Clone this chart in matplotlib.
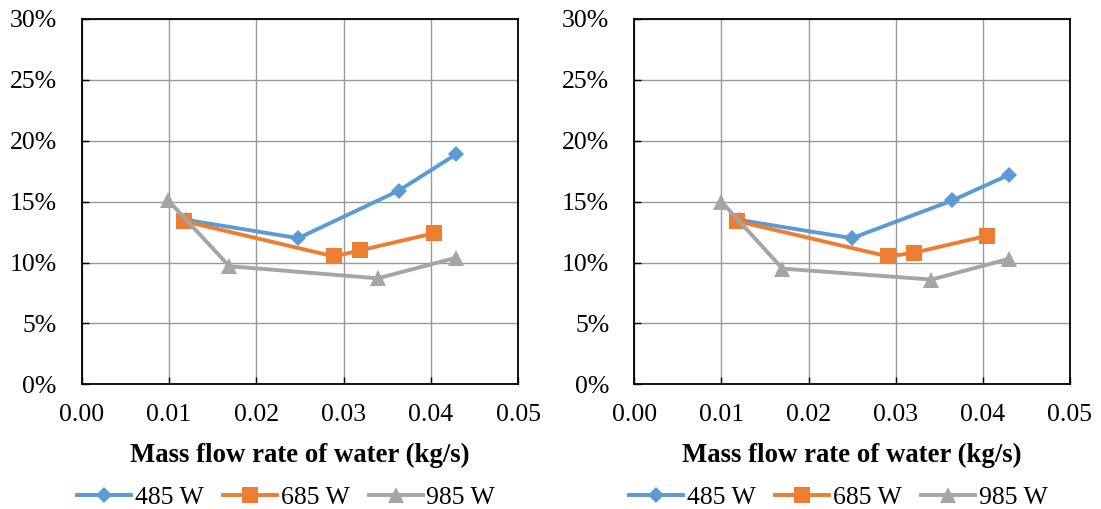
import matplotlib
matplotlib.use("Agg")
import matplotlib.pyplot as plt
from matplotlib.ticker import PercentFormatter, FixedLocator

plt.rcParams["font.family"] = ["Liberation Serif", "DejaVu Serif"]

series_labels = ["485 W", "685 W", "985 W"]
series_colors = ["#5B9BD5", "#ED7D31", "#A5A5A5"]
series_markers = ["D", "s", "^"]
series_msize = [8.3, 11, 11]

# Left panel: mass flow rate (kg/s) and percentage values
left_x_485 = [0.0120, 0.0248, 0.0363, 0.0429]
left_y_485 = [13.5, 12.0, 15.9, 18.9]
left_x_685 = [0.0117, 0.0289, 0.0319, 0.0403]
left_y_685 = [13.4, 10.5, 11.0, 12.4]
left_x_985 = [0.0099, 0.0169, 0.0339, 0.0429]
left_y_985 = [15.1, 9.7, 8.7, 10.4]

# Right panel
right_x_485 = [0.0120, 0.0250, 0.0365, 0.0430]
right_y_485 = [13.5, 12.0, 15.1, 17.2]
right_x_685 = [0.0118, 0.0291, 0.0321, 0.0405]
right_y_685 = [13.4, 10.5, 10.8, 12.2]
right_x_985 = [0.0100, 0.0170, 0.0341, 0.0430]
right_y_985 = [15.0, 9.5, 8.6, 10.3]

x_ticks = [0.00, 0.01, 0.02, 0.03, 0.04, 0.05]
y_ticks = [0, 5, 10, 15, 20, 25, 30]
x_label = "Mass flow rate of water (kg/s)"

fig = plt.figure(figsize=(11.01, 5.09), dpi=100)
ax_left = fig.add_axes([0.0742, 0.245, 0.3966, 0.7177])
ax_right = fig.add_axes([0.5761, 0.245, 0.3957, 0.7177])

panels = [
    (ax_left, [(left_x_485, left_y_485), (left_x_685, left_y_685), (left_x_985, left_y_985)]),
    (ax_right, [(right_x_485, right_y_485), (right_x_685, right_y_685), (right_x_985, right_y_985)]),
]

fs = 18.5
for ax, data in panels:
    for (xs, ys), lab, col, mk, ms in zip(data, series_labels, series_colors,
                                           series_markers, series_msize):
        ax.plot(xs, ys, color=col, lw=2.8, marker=mk, ms=ms, label=lab,
                markeredgewidth=0, solid_joinstyle="round")
    ax.set_xlim(0, 0.05)
    ax.set_ylim(0, 30)
    ax.xaxis.set_major_locator(FixedLocator(x_ticks))
    ax.yaxis.set_major_locator(FixedLocator(y_ticks))
    ax.set_xticklabels([f"{v:.2f}" for v in x_ticks])
    ax.yaxis.set_major_formatter(PercentFormatter(decimals=0))
    ax.grid(True, color="#999999", lw=1.0)
    ax.set_axisbelow(True)
    for sp in ax.spines.values():
        sp.set_color("black")
        sp.set_linewidth(1.3)
    ax.tick_params(axis="both", direction="in", length=5, width=1.0,
                   labelsize=fs, color="black")
    ax.tick_params(axis="y", pad=18)
    ax.tick_params(axis="x", pad=14)
    ax.set_xlabel(x_label, fontsize=19.3, fontweight="bold", labelpad=12)
    ax.legend(loc="center", bbox_to_anchor=(0.468, -0.311), ncol=3, frameon=False,
              fontsize=fs, handlelength=2.1, handletextpad=0.15,
              columnspacing=0.75, borderaxespad=0)

fig.savefig("out.png", dpi=100, facecolor="white")
